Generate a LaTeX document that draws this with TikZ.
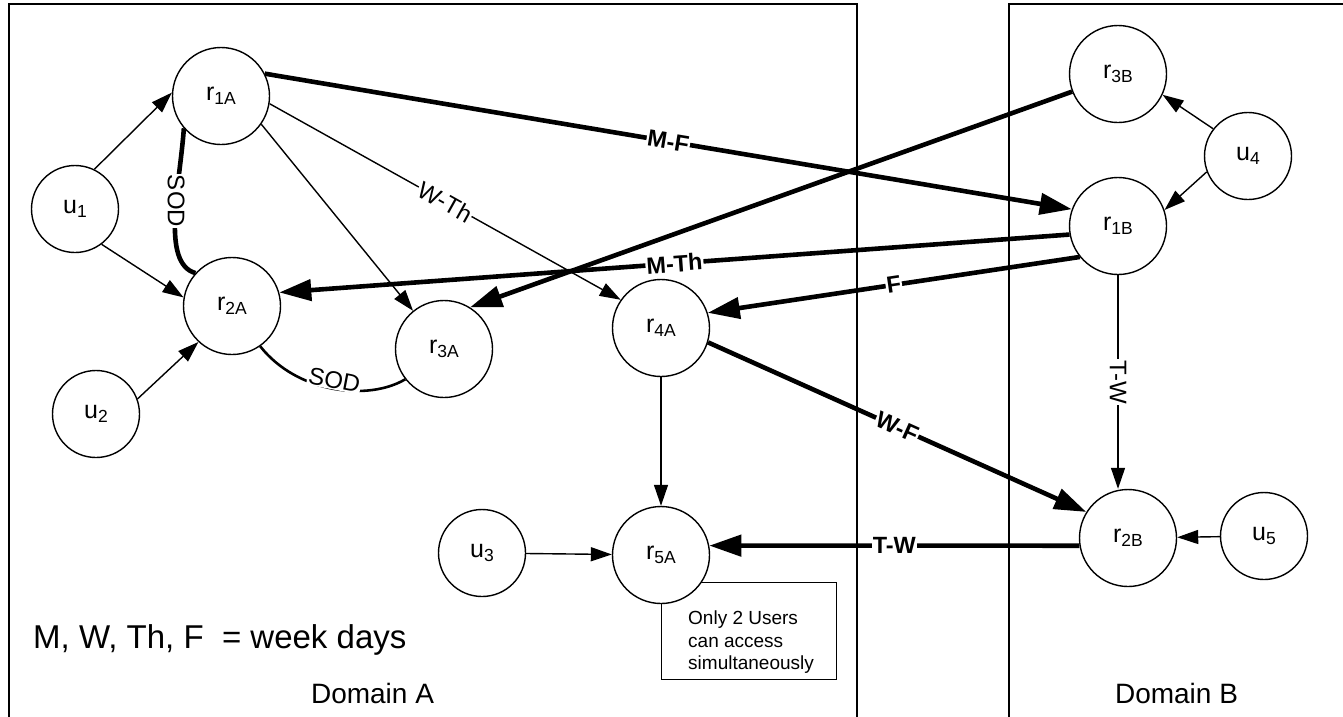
\documentclass[tikz,border=0pt]{standalone}
\usepackage{fontspec}
\setmainfont{Liberation Sans}
\usetikzlibrary{arrows.meta}
\pgfdeclarelayer{bg}
\pgfsetlayers{bg,main}
% role / user name with a lowered index
\newcommand{\sublab}[2]{#1\raisebox{-4pt}{\fontsize{17.5}{17.5}\selectfont #2}}

\begin{document}
\begin{tikzpicture}[x=1pt,y=-1pt,
  role/.style={circle,draw,line width=1.4pt,fill=white,minimum size=97pt,
    inner sep=0pt,font=\fontsize{25}{27}\selectfont},
  user/.style={role,minimum size=87pt},
  conn/.style={line width=1.4pt,-{Triangle[length=21pt,width=14pt]}},
  heavyconn/.style={line width=4.6pt,-{Triangle[length=32pt,width=21pt]}},
  thinlab/.style={fill=white,inner sep=1pt,font=\fontsize{24}{24}\selectfont},
  boldlab/.style={fill=white,inner sep=1pt,font=\fontsize{23.5}{24}\selectfont\bfseries},
  domlab/.style={anchor=base,font=\fontsize{28}{30}\selectfont}
]
\useasboundingbox (0,0) rectangle (1343,716);

% roles and users
\node[role] (r1A) at (221,96)  {\sublab{r}{1A}};
\node[user] (u1)  at (75,209)  {\sublab{u}{1}};
\node[role] (r2A) at (232,306) {\sublab{r}{2A}};
\node[role] (r3A) at (444,349) {\sublab{r}{3A}};
\node[user] (u2)  at (96,414)  {\sublab{u}{2}};
\node[role] (r4A) at (661,328) {\sublab{r}{4A}};
\node[role] (r5A) at (661,555) {\sublab{r}{5A}};
\node[user] (u3)  at (482,553) {\sublab{u}{3}};
\node[role] (r3B) at (1118,74) {\sublab{r}{3B}};
\node[role] (r1B) at (1118,226) {\sublab{r}{1B}};
\node[user] (u4)  at (1248,156) {\sublab{u}{4}};
\node[role] (r2B) at (1128,538) {\sublab{r}{2B}};
\node[user] (u5)  at (1264,536) {\sublab{u}{5}};

% texts
\node[domlab] (domA) at (372.5,703) {Domain A};
\node[domlab] (domB) at (1176.5,703) {Domain B};
\node[anchor=base west,inner sep=0pt,font=\fontsize{33}{35}\selectfont] (legend)
  at (33,648) {M, W, Th, F\ \ = week days};

\begin{pgfonlayer}{bg}
  % domains
  \draw[line width=1.4pt] (9,4) rectangle (857,730);
  \draw[line width=1.4pt] (1009,4) rectangle (1360,730);
  % capacity note
  \node[draw,line width=1.4pt,anchor=north west,minimum width=175pt,
    minimum height=97pt,inner sep=0pt] (note) at (661,582) {};
  \node[anchor=north west,align=left,inner sep=0pt,
    font=\fontsize{19}{22.5}\selectfont] (notetext) at (688,611)
    {Only 2 Users\\can access\\simultaneously};

  % user assignments and plain hierarchy
  \draw[conn] (u1.64) -- (r1A.176);
  \draw[conn] (u1.-53) -- (r2A.170);
  \draw[conn] (u2.20) -- (r2A.-133);
  \draw[conn] (r1A.-35) -- (r3A.129);
  \draw[conn] (r1A.-9) -- node[thinlab,sloped] {W-Th} (r4A.145);
  \draw[conn] (r4A) -- (r5A);
  \draw[conn] (u3) -- (r5A);
  \draw[conn] (u4.142) -- (r3B.-25);
  \draw[conn] (u4.201) -- (r1B.19);
  \draw[conn] (u5) -- (r2B);
  \draw[conn] (r1B.south) -- node[thinlab,rotate=-90] {T-W} (r1B.south |- r2B.north);

  % cross-domain mappings
  \draw[heavyconn] (r1A.27) -- node[boldlab,sloped] {M-F} (r1B.160);
  \draw[heavyconn] (r3B.201) -- (r3A.58);
  \draw[heavyconn] (r1B.190) -- node[boldlab,sloped] {M-Th} (r2A.16);
  \draw[heavyconn] (r1B.219) -- node[boldlab,sloped] {F} (r4A.18);
  \draw[heavyconn] (r4A.-17) -- node[boldlab,sloped] {W-F} (r2B.148);
  \draw[heavyconn] (r2B.189) -- node[boldlab] {T-W} (r5A.11);

  % separation of duty constraints
  \draw[line width=4.6pt] (r1A.221) .. controls +(-4,57) and +(-35,-10) ..
    node[pos=0.4,thinlab,rotate=-90] {SOD} (r2A.138);
  \draw[line width=2.6pt] (r2A.-55) .. controls +(37,47) and +(-37,22) ..
    node[thinlab,sloped,above=-2pt] {SOD} (r3A.218);
\end{pgfonlayer}
\end{tikzpicture}
\end{document}
